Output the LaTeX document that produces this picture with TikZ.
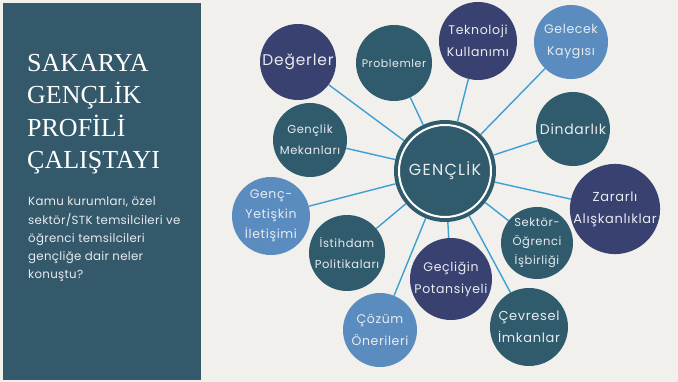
\documentclass[tikz,border=0pt]{standalone}
\usepackage{fontspec}
\usetikzlibrary{backgrounds}
\setmainfont{Poppins}
\newfontfamily\titlefont{Liberation Serif}
\newfontfamily\bubblefont[LetterSpace=5]{Poppins}
\definecolor{bgc}{HTML}{F1F0EC}
\definecolor{panelc}{HTML}{33596B}
\definecolor{tealc}{HTML}{2F5B6C}
\definecolor{navyc}{HTML}{38416F}
\definecolor{lightc}{HTML}{5B8CBF}
\definecolor{linec}{HTML}{3BA0D3}
\definecolor{txtc}{HTML}{E8EBEF}
\tikzset{
  bubble/.style={circle, inner sep=0pt, text=txtc, align=center},
  teal/.style={bubble, fill=tealc},
  navy/.style={bubble, fill=navyc},
  light/.style={bubble, fill=lightc},
  link/.style={draw=linec, line width=1.4pt},
}
\begin{document}
\begin{tikzpicture}[x=1pt,y=-1pt]
\useasboundingbox (0,0) rectangle (678,382);
\node[anchor=north west, text=white, align=left, inner sep=0pt, font=\titlefont\fontsize{26}{32.5}\selectfont] (title) at (27,54) {SAKARYA\\GENÇLİK\\PROFİLİ\\ÇALIŞTAYI};
\node[anchor=north west, text=txtc, align=left, inner sep=0pt, font=\addfontfeatures{LetterSpace=2.5}\fontsize{11.8}{18.2}\selectfont] (sub) at (28,197) {Kamu kurumları, özel\\sektör/STK temsilcileri ve\\öğrenci temsilcileri\\gençliğe dair neler\\konuştu?};
% nodes
\node[navy, minimum size=76pt, font=\bubblefont\fontsize{15.5}{19}\selectfont] (deg) at (298,62) {Değerler};
\node[teal, minimum size=76pt, font=\bubblefont\fontsize{11}{15}\selectfont] (prob) at (394,63) {Problemler};
\node[navy, minimum size=78pt, font=\bubblefont\fontsize{12.5}{22}\selectfont] (tek) at (478,41) {Teknoloji\\Kullanımı};
\node[light, minimum size=74pt, font=\bubblefont\fontsize{12.5}{22}\selectfont] (gel) at (571,42) {Gelecek\\Kaygısı};
\node[teal, minimum size=74pt, font=\bubblefont\fontsize{14}{18}\selectfont] (din) at (573,129) {Dindarlık};
\node[navy, minimum size=84pt, font=\bubblefont\fontsize{13}{22}\selectfont] (zar) at (615,209) {Zararlı\\Alışkanlıklar};
\node[teal, minimum size=72pt, font=\bubblefont\fontsize{11.5}{19}\selectfont] (sek) at (537,243) {Sektör-\\Öğrenci\\İşbirliği};
\node[teal, minimum size=78pt, font=\bubblefont\fontsize{13}{22}\selectfont] (cev) at (529,327) {Çevresel\\İmkanlar};
\node[navy, minimum size=82pt, font=\bubblefont\fontsize{12.5}{22}\selectfont] (gec) at (451,279) {Geçliğin\\Potansiyeli};
\node[light, minimum size=74pt, font=\bubblefont\fontsize{12.5}{22}\selectfont] (coz) at (380,330) {Çözüm\\Önerileri};
\node[teal, minimum size=76pt, font=\bubblefont\fontsize{11.5}{21}\selectfont] (ist) at (347,253) {İstihdam\\Politikaları};
\node[light, minimum size=78pt, font=\bubblefont\fontsize{12.5}{20}\selectfont] (genc) at (271,216) {Genç-\\Yetişkin\\İletişimi};
\node[teal, minimum size=74pt, font=\bubblefont\fontsize{11.5}{21}\selectfont] (mek) at (310,140) {Gençlik\\Mekanları};
\node[teal, minimum size=102pt] (core) at (445,171) {};
\draw[white, line width=2pt] (core.center) circle (46pt);
\node[text=txtc, inner sep=0pt, font=\fontsize{16}{19}\selectfont\addfontfeatures{LetterSpace=8}] (coretext) at (core.center) {GENÇLİK};
\begin{scope}[on background layer]
\fill[bgc] (0,0) rectangle (678,382);
\fill[panelc] (3,3) rectangle (201,380);
\foreach \n in {deg,prob,tek,gel,din,zar,sek,cev,gec,coz,ist,genc,mek}
  \path[link] (core) -- (\n);
\end{scope}
\end{tikzpicture}
\end{document}
